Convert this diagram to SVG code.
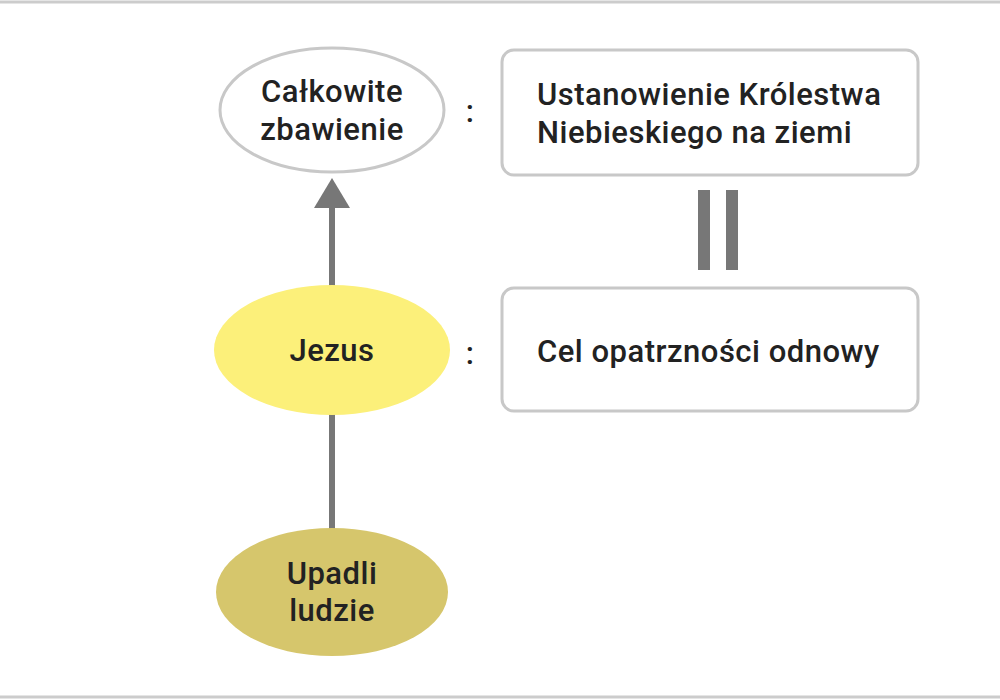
<svg xmlns="http://www.w3.org/2000/svg" width="1000" height="700" viewBox="0 0 1000 700">
<style>
text{font-family:Roboto,"Liberation Sans",sans-serif;font-size:31px;font-weight:500;fill:#222;text-anchor:middle;letter-spacing:0.5px}
.l{text-anchor:start}
.box{fill:#fff;stroke:#c8c8c8;stroke-width:3}
</style>
<rect width="1000" height="700" fill="#fff"/>
<line x1="0" y1="2" x2="1000" y2="2" stroke="#ccc" stroke-width="3"/>
<line x1="0" y1="697" x2="1000" y2="697" stroke="#ccc" stroke-width="3"/>
<g id="connectors">
<line x1="332" y1="530" x2="332" y2="205" stroke="#777" stroke-width="6"/>
<polygon points="314,208 350,208 332,178" fill="#777"/>
<rect x="698" y="190" width="12" height="80" fill="#777"/>
<rect x="726" y="190" width="12" height="80" fill="#777"/>
</g>
<g id="n1"><ellipse cx="332" cy="110" rx="112" ry="62" fill="#fff" stroke="#c8c8c8" stroke-width="3"/><text x="332" y="102">Całkowite</text><text x="332" y="140">zbawienie</text></g>
<g id="n2"><ellipse cx="332" cy="350" rx="118" ry="65" fill="#fcf07a"/><text x="332" y="361">Jezus</text></g>
<g id="n3"><ellipse cx="332" cy="592" rx="116" ry="64" fill="#d6c66c"/><text x="332" y="584">Upadli</text><text x="332" y="621">ludzie</text></g>
<g id="c1"><text x="470" y="122">:</text></g>
<g id="c2"><text x="470" y="364">:</text></g>
<g id="b1"><rect class="box" x="502" y="50" width="416" height="125" rx="12"/><text class="l" x="537" y="105">Ustanowienie Królestwa</text><text class="l" x="537" y="143">Niebieskiego na ziemi</text></g>
<g id="b2"><rect class="box" x="502" y="288" width="416" height="123" rx="12"/><text class="l" x="537" y="362">Cel opatrzności odnowy</text></g>
</svg>
